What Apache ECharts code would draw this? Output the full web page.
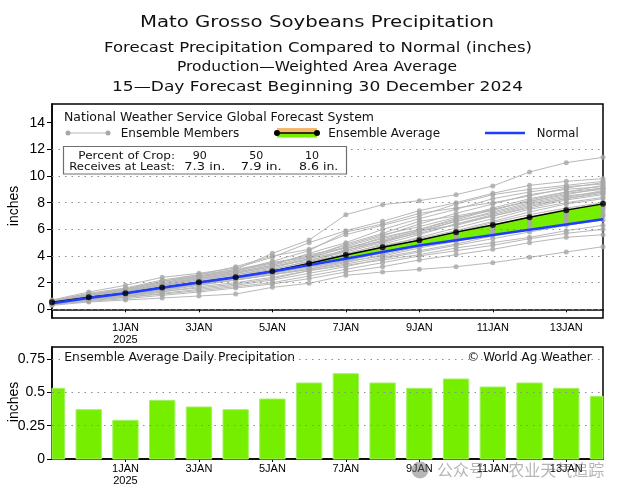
<!DOCTYPE html>
<html><head><meta charset="utf-8">
<script src="https://cdn.jsdelivr.net/npm/echarts@6/dist/echarts.min.js"></script>
<style>html,body{margin:0;padding:0;background:#fff}#c{width:634px;height:496px}</style>
</head><body><div id="c"></div>
<script>
// Days: index 0 = 30 Dec 2024 ... index 15 = 14 Jan 2025
const dayNames = ['30DEC','31DEC','1JAN','2JAN','3JAN','4JAN','5JAN','6JAN','7JAN','8JAN','9JAN','10JAN','11JAN','12JAN','13JAN','14JAN'];
const xTickValues = [2,4,6,8,10,12,14];
const xTickLabels = ['1JAN\n2025','3JAN','5JAN','7JAN','9JAN','11JAN','13JAN'];
const yTicksTop = [0,2,4,6,8,10,12,14];
const yGridTop = [0,2,4,6,8,10,12];
const yTicksBottom = [0,0.25,0.5,0.75];

// Cumulative precipitation (inches)
const ensembleAvg = [0.53,0.90,1.20,1.64,2.03,2.40,2.86,3.43,4.07,4.65,5.18,5.79,6.33,6.90,7.44,7.91];
const normal      = [0.45,0.85,1.20,1.62,2.02,2.40,2.84,3.32,3.80,4.30,4.78,5.18,5.57,5.97,6.37,6.75];
// Daily ensemble average precipitation (inches)
const dailyAvg = [0.53,0.37,0.29,0.44,0.39,0.37,0.45,0.57,0.64,0.57,0.53,0.60,0.54,0.57,0.53,0.47];

// Ensemble members (cumulative, inches)
const m01 = [0.60,1.10,1.50,2.00,2.50,3.00,4.20,5.20,7.10,7.85,8.15,8.60,9.25,10.30,11.00,11.40];
const m02 = [0.70,1.30,1.80,2.40,2.70,3.10,3.90,5.00,5.90,6.60,7.40,8.00,8.70,9.30,9.60,9.80];
const m03 = [0.65,1.20,1.60,2.20,2.60,3.20,4.00,4.50,5.60,6.30,7.00,7.90,8.60,9.00,9.30,9.60];
const m04 = [0.60,1.00,1.40,1.90,2.40,2.90,3.60,4.40,5.80,6.40,7.20,7.60,8.00,8.50,9.10,9.50];
const m05 = [0.55,0.95,1.30,1.80,2.30,2.80,3.30,4.20,5.00,6.00,6.80,7.50,8.30,8.80,9.20,9.40];
const m06 = [0.50,0.90,1.25,1.75,2.20,2.60,3.10,3.80,4.70,5.50,6.40,7.20,7.90,8.60,9.00,9.20];
const m07 = [0.60,1.05,1.45,2.00,2.45,2.85,3.50,3.90,4.90,5.70,6.60,7.00,7.50,8.10,8.70,9.00];
const m08 = [0.45,0.85,1.15,1.60,2.10,2.60,3.00,3.60,4.50,5.40,6.00,6.80,7.60,8.30,8.80,9.10];
const m09 = [0.55,1.00,1.35,1.85,2.30,2.70,3.20,3.70,4.30,5.00,5.80,6.60,7.30,8.00,8.50,8.80];
const m10 = [0.50,0.95,1.30,1.70,2.05,2.50,2.90,3.40,4.10,4.90,5.60,6.40,7.10,7.80,8.30,8.70];
const m11 = [0.60,1.10,1.50,2.10,2.50,2.90,3.40,4.10,4.60,5.10,5.90,6.30,7.00,7.60,8.20,8.60];
const m12 = [0.45,0.80,1.10,1.50,1.90,2.40,2.80,3.30,4.00,4.70,5.40,6.10,6.80,7.50,8.00,8.40];
const m13 = [0.50,0.90,1.20,1.65,2.00,2.35,2.80,3.50,4.20,4.80,5.30,5.90,6.60,7.30,7.90,8.30];
const m14 = [0.55,0.90,1.20,1.60,2.00,2.40,2.70,3.20,3.90,4.40,5.10,5.80,6.50,7.10,7.60,8.00];
const m15 = [0.40,0.75,1.00,1.40,1.80,2.20,2.60,3.00,3.60,4.30,5.00,5.70,6.30,6.90,7.50,7.90];
const m16 = [0.50,0.85,1.10,1.55,1.95,2.30,2.75,3.30,3.80,4.50,4.90,5.50,6.20,6.80,7.30,7.70];
const m17 = [0.55,0.95,1.25,1.70,2.10,2.45,3.00,3.60,4.00,4.60,5.20,5.60,6.00,6.60,7.10,7.50];
const m18 = [0.45,0.80,1.05,1.45,1.85,2.20,2.60,3.10,3.70,4.20,4.80,5.30,5.80,6.40,6.90,7.30];
const m19 = [0.40,0.70,0.95,1.30,1.70,2.00,2.40,2.90,3.40,3.90,4.40,4.90,5.50,6.00,6.60,7.00];
const m20 = [0.35,0.65,0.90,1.20,1.50,1.80,2.20,2.70,3.20,3.80,4.30,4.80,5.30,5.80,6.30,6.70];
const m21 = [0.45,0.80,1.00,1.35,1.60,1.90,2.30,2.90,3.30,3.70,4.10,4.60,5.00,5.40,5.90,6.30];
const m22 = [0.40,0.70,0.90,1.15,1.40,1.70,2.00,2.50,3.00,3.50,4.00,4.40,4.80,5.30,5.70,6.00];
const m23 = [0.35,0.60,0.80,1.05,1.30,1.60,1.90,2.30,2.80,3.20,3.70,4.10,4.50,5.00,5.40,5.60];
const m24 = [0.30,0.55,0.70,0.85,1.00,1.15,1.65,1.95,2.55,2.80,3.00,3.20,3.50,3.90,4.30,4.70];
const m25 = [0.50,0.90,1.20,1.60,2.00,2.40,2.90,3.50,4.40,5.20,5.90,6.60,7.20,7.90,8.40,8.90];
const m26 = [0.65,1.15,1.55,2.10,2.60,3.00,3.50,4.00,4.80,5.60,6.20,6.90,7.40,8.20,8.80,9.30];
const m27 = [0.60,1.00,1.35,1.80,2.20,2.70,3.20,3.80,4.40,5.10,5.70,6.40,7.00,7.70,8.30,8.80];
const m28 = [0.50,0.85,1.15,1.55,1.95,2.30,2.70,3.20,3.60,4.00,4.60,5.10,5.60,6.10,6.60,7.10];
const m29 = [0.55,1.00,1.40,1.90,2.35,2.75,3.30,3.90,4.60,5.30,6.00,6.70,7.50,8.10,8.60,9.10];
const m30 = [0.45,0.80,1.10,1.50,1.90,2.20,2.60,3.00,3.50,4.10,4.70,5.20,5.90,6.50,7.10,7.60];
const members = [m01,m02,m03,m04,m05,m06,m07,m08,m09,m10,m11,m12,m13,m14,m15,m16,m17,m18,m19,m20,m21,m22,m23,m24,m25,m26,m27,m28,m29,m30];

const pctCrop = ['90','50','10'];
const atLeast = ['7.3 in.','7.9 in.','8.6 in.'];

const FONT = 'Liberation Sans';
const HFONT = '"DejaVu Sans"';
const GREEN = '#76ee00', ORANGE = '#f5b86a', BLUE = '#1f3dff';
const pts = arr => arr.map((v,i)=>[i,v]);
const dotted = {color:'#8c8c8c', width:1, type:[1.5,5]};

// text helper: fit text between x1 and x2 (horizontal stretch), cy = cap centre
const mctx = document.createElement('canvas').getContext('2d');
function htext(str, x1, x2, cy, size, z) {
  const font = size + 'px ' + HFONT;
  mctx.font = font;
  const w = mctx.measureText(str).width;
  return {type:'text', x:x1, y:cy + size*0.06, scaleX:(x2-x1)/w, z:z||5,
    style:{text:str, font:font, fill:'#111', align:'left', verticalAlign:'middle'}};
}

const series = [];
// top gridlines
series.push({type:'line', xAxisIndex:0, yAxisIndex:0, data:[], silent:true, z:1,
  markLine:{silent:true, symbol:'none', label:{show:false}, lineStyle:dotted, animation:false,
    data: yGridTop.map(v=>({yAxis:v}))}});
// member lines
members.forEach(m => series.push({type:'line', xAxisIndex:0, yAxisIndex:0, data:pts(m), symbol:'none',
  lineStyle:{color:'#b8b8b8', width:1}, z:2, silent:true}));
// fill between normal and ensemble average
series.push({type:'custom', xAxisIndex:0, yAxisIndex:0, silent:true, z:3,
  data: ensembleAvg.slice(0,-1).map((v,i)=>[i,v]), encode:{x:0, y:1},
  renderItem:(params, api) => {
    const i = params.dataIndex;
    const a0 = api.coord([i, ensembleAvg[i]]), a1 = api.coord([i+1, ensembleAvg[i+1]]);
    const n0 = api.coord([i, normal[i]]), n1 = api.coord([i+1, normal[i+1]]);
    const above = (ensembleAvg[i] + ensembleAvg[i+1]) >= (normal[i] + normal[i+1]);
    const c = above ? GREEN : ORANGE;
    return {type:'polygon', shape:{points:[a0,a1,n1,n0]}, style:{fill:c, stroke:c, lineWidth:0.6}};
  }});
// member points
series.push({type:'scatter', xAxisIndex:0, yAxisIndex:0, silent:true, z:4,
  data: [].concat(...members.map(pts)), symbol:'circle', symbolSize:5, itemStyle:{color:'#a8a8a8'}});
// ensemble average line
series.push({type:'line', xAxisIndex:0, yAxisIndex:0, data:pts(ensembleAvg), symbol:'none', lineStyle:{color:'#000', width:1.5}, z:5});
// normal
series.push({type:'line', xAxisIndex:0, yAxisIndex:0, data:pts(normal), symbol:'none', lineStyle:{color:BLUE, width:2.5}, z:6});
// ensemble average dots
series.push({type:'scatter', xAxisIndex:0, yAxisIndex:0, data:pts(ensembleAvg), symbol:'circle', symbolSize:6, itemStyle:{color:'#000'}, z:7});
// bottom gridlines
series.push({type:'line', xAxisIndex:1, yAxisIndex:1, data:[], silent:true, z:1,
  markLine:{silent:true, symbol:'none', label:{show:false}, lineStyle:dotted, animation:false,
    data: yTicksBottom.filter(v=>v>0).map(v=>({yAxis:v}))}});
// bars (clipped to the plot area)
series.push({type:'custom', xAxisIndex:1, yAxisIndex:1, z:3, data:pts(dailyAvg), encode:{x:0, y:1},
  renderItem:(params, api) => {
    const x = api.value(0), v = api.value(1);
    const top = api.coord([x, v]), base = api.coord([x, 0]);
    const w = api.size([1, 0])[0] * 0.69;
    const cs = params.coordSys;
    const rect = echarts.graphic.clipRectByRect(
      {x: top[0]-w/2, y: top[1], width: w, height: base[1]-top[1]},
      {x: cs.x, y: cs.y, width: cs.width, height: cs.height});
    return rect && {type:'rect', shape:rect, style:{fill:GREEN, stroke:'#a4f066', lineWidth:1}};
  }});

const xAxisCommon = {type:'value', min:0, max:15,
  axisLine:{show:true, lineStyle:{color:'#000', width:1.5}},
  axisTick:{show:true, customValues:xTickValues, length:3, lineStyle:{color:'#000'}},
  axisLabel:{customValues:xTickValues, color:'#000', fontFamily:FONT, fontSize:11, lineHeight:12, margin:4,
    formatter: v => xTickLabels[xTickValues.indexOf(v)] || ''},
  splitLine:{show:false}};

const graphics = [
  htext('Mato Grosso Soybeans Precipitation', 140, 494, 21.5, 16),
  htext('Forecast Precipitation Compared to Normal (inches)', 104, 532, 47.3, 14),
  htext('Production\u2014Weighted Area Average', 177, 457, 66.7, 14),
  htext('15\u2014Day Forecast Beginning 30 December 2024', 112, 523, 86.7, 14),
  // axis names
  {type:'text', x:14, y:206, rotation:Math.PI/2, style:{text:'inches', font:'14px '+FONT, fill:'#000', align:'center', verticalAlign:'middle'}},
  {type:'text', x:14, y:402, rotation:Math.PI/2, style:{text:'inches', font:'14px '+FONT, fill:'#000', align:'center', verticalAlign:'middle'}},
  // legend
  htext('National Weather Service Global Forecast System', 64, 374, 117, 12),
  {type:'line', shape:{x1:68, y1:133, x2:108, y2:133}, style:{stroke:'#b8b8b8', lineWidth:1}},
  {type:'circle', shape:{cx:68, cy:133, r:2.5}, style:{fill:'#a8a8a8'}},
  {type:'circle', shape:{cx:108, cy:133, r:2.5}, style:{fill:'#a8a8a8'}},
  htext('Ensemble Members', 120.7, 239.3, 133, 12),
  {type:'rect', shape:{x:277, y:128, width:40, height:5}, style:{fill:ORANGE}},
  {type:'rect', shape:{x:277, y:133, width:40, height:4.5}, style:{fill:GREEN}},
  {type:'line', shape:{x1:277, y1:133, x2:317, y2:133}, style:{stroke:'#000', lineWidth:1.5}},
  {type:'circle', shape:{cx:277, cy:133, r:3}, style:{fill:'#000'}},
  {type:'circle', shape:{cx:317, cy:133, r:3}, style:{fill:'#000'}},
  htext('Ensemble Average', 328.3, 440, 133, 12),
  {type:'line', shape:{x1:485, y1:133, x2:525, y2:133}, style:{stroke:BLUE, lineWidth:2.5}},
  htext('Normal', 536.7, 578.7, 133, 12),
  // percent of crop box
  {type:'rect', shape:{x:63.5, y:146.5, width:283, height:27.5}, style:{fill:'#fff', stroke:'#707070', lineWidth:1.2}, z:10},
  htext('Percent of Crop:', 78.3, 175, 155, 11, 11),
  htext('Receives at Least:', 69.3, 175, 166.7, 11, 11),
  htext(pctCrop[0], 192.7, 206.7, 155, 11, 11),
  htext(pctCrop[1], 249.3, 263.3, 155, 11, 11),
  htext(pctCrop[2], 305, 319, 155, 11, 11),
  htext(atLeast[0], 184.3, 225.3, 166.7, 11, 11),
  htext(atLeast[1], 240.7, 281.7, 166.7, 11, 11),
  htext(atLeast[2], 299, 338.3, 166.7, 11, 11),
  // bottom panel texts
  htext('Ensemble Average Daily Precipitation', 64.3, 295, 357.5, 12),
  htext('\u00a9 World Ag Weather', 467.3, 591.7, 357.5, 12),
  // watermark
  {type:'circle', shape:{cx:420, cy:470, r:8.5}, style:{fill:'rgba(110,110,110,0.5)'}, z:20},
  {type:'text', x:437, y:470, z:20, style:{text:'公众号 · 农业天气追踪', font:'16px "Noto Sans CJK SC"', fill:'rgba(120,120,120,0.55)', verticalAlign:'middle'}}
];

const option = {
  animation:false,
  backgroundColor:'#fff',
  grid:[
    {left:52, right:31, top:104, height:214, show:true, borderColor:'#000', borderWidth:1.5, backgroundColor:'transparent'},
    {left:52, right:31, top:347, height:112, show:true, borderColor:'#000', borderWidth:1.5, backgroundColor:'transparent'}
  ],
  xAxis:[Object.assign({gridIndex:0}, xAxisCommon), Object.assign({gridIndex:1}, xAxisCommon)],
  yAxis:[
    {type:'value', gridIndex:0, min:-0.65, max:15.4,
     axisLine:{show:true, lineStyle:{color:'#000', width:1.5}},
     axisTick:{show:true, customValues:yTicksTop, length:5, lineStyle:{color:'#000'}},
     axisLabel:{customValues:yTicksTop, color:'#000', fontFamily:FONT, fontSize:14, margin:7},
     splitLine:{show:false}},
    {type:'value', gridIndex:1, min:0, max:0.84,
     axisLine:{show:true, lineStyle:{color:'#000', width:1.5}},
     axisTick:{show:true, customValues:yTicksBottom, length:5, lineStyle:{color:'#000'}},
     axisLabel:{customValues:yTicksBottom, color:'#000', fontFamily:FONT, fontSize:14, margin:7},
     splitLine:{show:false}}
  ],
  graphic: graphics,
  series: series
};
const chart = echarts.init(document.getElementById('c'), null, {renderer:'canvas'});
chart.setOption(option);
</script>
</body></html>
